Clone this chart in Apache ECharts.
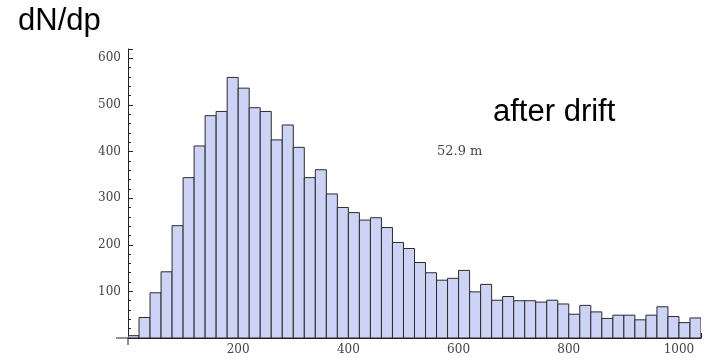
<!DOCTYPE html>
<html>
<head>
<meta charset="utf-8">
<script src="https://cdn.jsdelivr.net/npm/echarts@6/dist/echarts.min.js"></script>
<style>
html,body{margin:0;padding:0;background:#fff;}
#chart{width:704px;height:359px;}
</style>
</head>
<body>
<div id="chart"></div>
<script>
// Histogram bin edges (momentum p)
const binEdges = [0,20,40,60,80,100,120,140,160,180,200,220,240,260,280,300,320,340,360,380,400,
  420,440,460,480,500,520,540,560,580,600,620,640,660,680,700,720,740,760,780,800,
  820,840,860,880,900,920,940,960,980,1000,1020,1040];
// Counts per bin (dN/dp)
const counts = [5,44,97,142,241,344,412,477,486,559,536,494,486,425,457,409,344,361,309,280,269,
  253,258,237,205,192,162,140,124,128,145,99,115,81,89,80,80,77,81,73,51,
  70,56,42,49,49,39,49,67,46,33,43];
const xTickLabels = [200,400,600,800,1000];
const yTickLabels = [100,200,300,400,500,600];
const yAxisTitle = 'dN/dp';
const panelLabel = 'after drift';
const distanceLabel = '52.9 m';

const barData = counts.map((c, i) => [binEdges[i], binEdges[i + 1], c]);

const chart = echarts.init(document.getElementById('chart'), null, {renderer: 'canvas'});
const labelFont = 'DejaVu Serif';
chart.setOption({
  animation: false,
  backgroundColor: '#ffffff',
  grid: {left: 128, right: 0, top: 49, bottom: 21, containLabel: false},
  xAxis: {
    type: 'value', min: 0, max: 1040, interval: 200,
    axisLine: {show: true, lineStyle: {color: '#222', width: 1}},
    axisTick: {show: true, inside: true, length: 5, lineStyle: {color: '#222'}},
    minorTick: {show: true, splitNumber: 4, length: 3, lineStyle: {color: '#222'}},
    splitLine: {show: false},
    axisLabel: {
      margin: 6, color: '#444', fontFamily: labelFont, fontSize: 12,
      formatter: v => (xTickLabels.indexOf(v) >= 0 ? String(v) : '')
    }
  },
  yAxis: {
    type: 'value', min: 0, max: 620, interval: 100,
    axisLine: {show: true, lineStyle: {color: '#222', width: 1}},
    axisTick: {show: true, inside: true, length: 5, lineStyle: {color: '#222'}},
    minorTick: {show: true, splitNumber: 5, length: 3, lineStyle: {color: '#222'}},
    splitLine: {show: false},
    axisLabel: {
      margin: 7, color: '#444', fontFamily: labelFont, fontSize: 12,
      formatter: v => (yTickLabels.indexOf(v) >= 0 ? String(v) : '')
    }
  },
  series: [{
    type: 'custom',
    data: barData,
    encode: {x: [0, 1], y: 2},
    clip: true,
    renderItem: function (params, api) {
      const lo = api.value(0), hi = api.value(1), v = api.value(2);
      const p0 = api.coord([lo, 0]);
      const p1 = api.coord([hi, v]);
      return {
        type: 'rect',
        shape: {x: p0[0], y: p1[1], width: p1[0] - p0[0], height: p0[1] - p1[1]},
        style: {fill: '#cdd3f5', stroke: '#2b2b2b', lineWidth: 1}
      };
    }
  }]
});

// Text annotations and Mathematica-style axis extensions past the origin
const o = chart.convertToPixel({gridIndex: 0}, [0, 0]);
chart.setOption({
  graphic: [
    {id: 't1', type: 'text', x: 18, y: 6,
      style: {text: yAxisTitle, font: 'normal 400 31px "Liberation Sans"', fill: '#000'}},
    {id: 't2', type: 'text', x: 493, y: 97,
      style: {text: panelLabel, font: 'normal 400 31px "Liberation Sans"', fill: '#000'}},
    {id: 't3', type: 'text', x: 437, y: 145,
      style: {text: distanceLabel, font: 'normal 400 13px "DejaVu Serif"', fill: '#444'}},
    {id: 'l1', type: 'line', shape: {x1: o[0] - 12, y1: o[1], x2: o[0], y2: o[1]}, style: {stroke: '#222', lineWidth: 1}},
    {id: 'l2', type: 'line', shape: {x1: o[0], y1: o[1], x2: o[0], y2: o[1] + 7}, style: {stroke: '#222', lineWidth: 1}}
  ]
});
</script>
</body>
</html>
